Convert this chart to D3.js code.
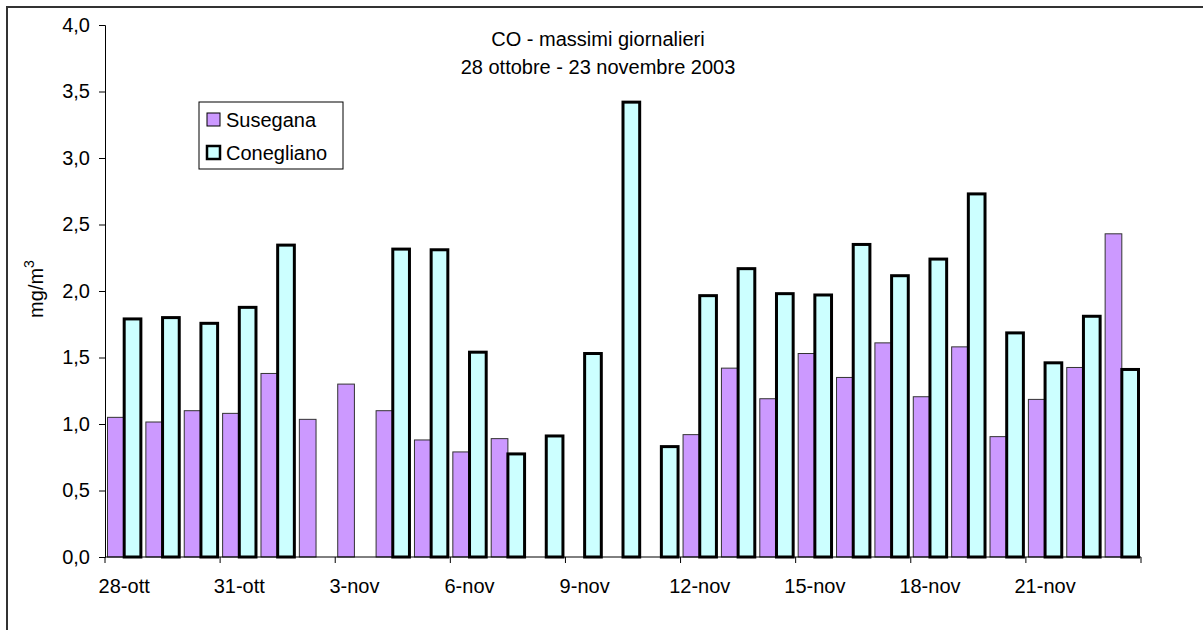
<!DOCTYPE html>
<html>
<head>
<meta charset="utf-8">
<script src="https://cdn.jsdelivr.net/npm/d3@7"></script>
<style>
  body { margin: 0; background: #fff; }
  text { font-family: "Liberation Sans", Arial, sans-serif; fill: #000; }
</style>
</head>
<body>
<div id="chart"></div>
<script>
// data
const days = [
  "28-ott", "29-ott", "30-ott", "31-ott", "1-nov", "2-nov", "3-nov", "4-nov", "5-nov",
  "6-nov", "7-nov", "8-nov", "9-nov", "10-nov", "11-nov", "12-nov", "13-nov", "14-nov",
  "15-nov", "16-nov", "17-nov", "18-nov", "19-nov", "20-nov", "21-nov", "22-nov", "23-nov"
];
const susegana = [
  1.05, 1.015, 1.10, 1.08, 1.38, 1.035, 1.30, 1.10, 0.88, 0.79, 0.89, null, null, null,
  null, 0.92, 1.42, 1.19, 1.53, 1.35, 1.61, 1.205, 1.58, 0.905, 1.185, 1.425, 2.43
];
const conegliano = [
  1.79, 1.80, 1.757, 1.877, 2.345, null, null, 2.315, 2.31, 1.54, 0.775, 0.91, 1.53, 3.42,
  0.83, 1.965, 2.168, 1.98, 1.97, 2.35, 2.115, 2.24, 2.73, 1.685, 1.46, 1.81, 1.41
];
const seriesNames = ["Susegana", "Conegliano"];
const yTicks = [0, 0.5, 1, 1.5, 2, 2.5, 3, 3.5, 4];
const labelEvery = 3;

const W = 1203, H = 630;
const margin = { top: 25, right: 62, bottom: 73, left: 105 };
const w = W - margin.left - margin.right;
const h = H - margin.top - margin.bottom;
const fs = "20px";

const svg = d3.select("#chart")
  .append("svg")
  .attr("width", W)
  .attr("height", H)
  .attr("viewBox", `0 0 ${W} ${H}`);

// outer frame (runs off the right and bottom edges)
svg.append("rect")
  .attr("x", 7).attr("y", 7)
  .attr("width", W + 20).attr("height", H + 20)
  .attr("fill", "none")
  .attr("stroke", "#333")
  .attr("stroke-width", 2);

const g = svg.append("g").attr("transform", `translate(${margin.left},${margin.top})`);

// scales
const x0 = d3.scaleBand().domain(days).range([0, w]).paddingInner(0).paddingOuter(0);
const x1 = d3.scaleBand().domain(seriesNames).range([0, x0.bandwidth()]).paddingInner(0).paddingOuter(0.15);
const y = d3.scaleLinear().domain([0, 4]).range([h, 0]);

const rows = days.map((d, i) => ({ day: d, Susegana: susegana[i], Conegliano: conegliano[i] }));

const style = {
  Susegana: { fill: "#cc99ff", stroke: "#333", sw: 1 },
  Conegliano: { fill: "#ccffff", stroke: "#000", sw: 3 }
};

// bars
const groups = g.selectAll(".day")
  .data(rows)
  .join("g")
  .attr("class", "day")
  .attr("transform", d => `translate(${x0(d.day)},0)`);

groups.selectAll("rect")
  .data(d => seriesNames.filter(k => d[k] != null).map(k => ({ key: k, value: d[k] })))
  .join("rect")
  .attr("x", d => x1(d.key))
  .attr("y", d => y(d.value))
  .attr("width", x1.bandwidth())
  .attr("height", d => h - y(d.value))
  .attr("fill", d => style[d.key].fill)
  .attr("stroke", d => style[d.key].stroke)
  .attr("stroke-width", d => style[d.key].sw);

// y axis
const yAxis = g.append("g")
  .call(d3.axisLeft(y).tickValues(yTicks).tickSize(6).tickPadding(9)
    .tickFormat(d => d3.format(".1f")(d).replace(".", ",")));
yAxis.select(".domain").attr("stroke", "#000");
yAxis.selectAll("text").style("font-size", fs).attr("font-family", null);

// x axis: tick marks on every 3rd category boundary, labels at category centres
const xg = g.append("g").attr("transform", `translate(0,${h})`);
xg.append("line").attr("x1", 0).attr("x2", w).attr("stroke", "#000");
const tickPos = d3.range(0, days.length + 1, labelEvery).map(i => i * x0.step());
xg.selectAll(".tk")
  .data(tickPos)
  .join("line")
  .attr("class", "tk")
  .attr("x1", d => d).attr("x2", d => d)
  .attr("y1", 0).attr("y2", 6)
  .attr("stroke", "#000");
xg.selectAll(".lbl")
  .data(days.filter((d, i) => i % labelEvery === 0))
  .join("text")
  .attr("class", "lbl")
  .attr("x", d => x0(d) + x0.bandwidth() / 2)
  .attr("y", 36)
  .attr("text-anchor", "middle")
  .style("font-size", fs)
  .text(d => d);

// y label
const yl = svg.append("text")
  .attr("transform", "translate(43,289) rotate(-90)")
  .attr("text-anchor", "middle")
  .style("font-size", fs);
yl.append("tspan").text("mg/m");
yl.append("tspan").attr("dy", -9).style("font-size", "14px").text("3");

// title
svg.append("text")
  .attr("x", 598).attr("y", 46)
  .attr("text-anchor", "middle")
  .style("font-size", fs)
  .text("CO - massimi giornalieri");
svg.append("text")
  .attr("x", 598).attr("y", 74)
  .attr("text-anchor", "middle")
  .style("font-size", fs)
  .text("28 ottobre - 23 novembre 2003");

// legend
const lg = svg.append("g").attr("transform", "translate(199,102)");
lg.append("rect")
  .attr("width", 144).attr("height", 67)
  .attr("fill", "#fff").attr("stroke", "#000");
const li = lg.selectAll(".li")
  .data(seriesNames)
  .join("g")
  .attr("class", "li")
  .attr("transform", (d, i) => `translate(8,${11 + i * 33})`);
li.append("rect")
  .attr("width", 13).attr("height", 13)
  .attr("fill", d => style[d].fill)
  .attr("stroke", "#000")
  .attr("stroke-width", d => d === "Conegliano" ? 2.5 : 1);
li.append("text")
  .attr("x", 19).attr("y", 14)
  .style("font-size", fs)
  .text(d => d);
</script>
</body>
</html>
